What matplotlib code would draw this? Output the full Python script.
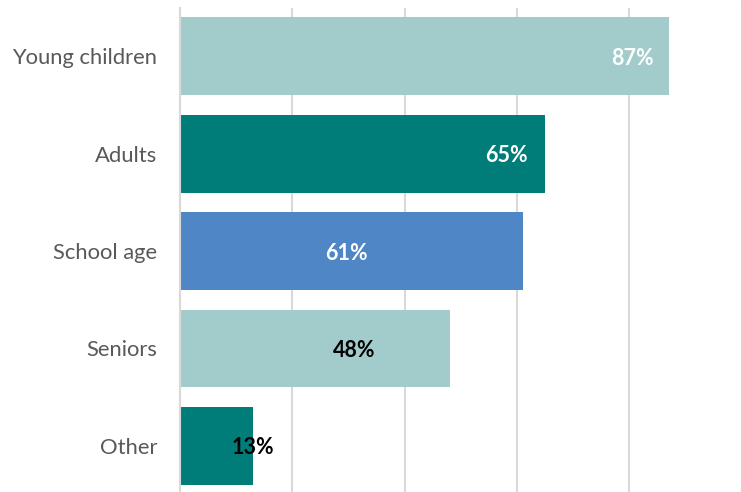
import matplotlib
matplotlib.use("Agg")
import matplotlib.pyplot as plt

categories = ["Young children", "Adults", "School age", "Seniors", "Other"]
values = [0.87, 0.65, 0.61, 0.48, 0.13]
labels = ["87%", "65%", "61%", "48%", "13%"]
label_x = [0.805, 0.582, 0.297, 0.31, 0.13]   # where the data labels sit
label_colors = ["white", "white", "white", "black", "black"]
bar_colors = ["#A2CCCB", "#007D78", "#4E86C6", "#A2CCCB", "#007D78"]

plt.rcParams["font.family"] = ["Lato", "DejaVu Sans"]

fig = plt.figure(figsize=(7.41, 4.92), dpi=100)
ax = fig.add_axes([180 / 741, -2.6 / 492, 561.5 / 741, 487 / 492])

ax.barh(range(len(categories)), values, height=0.8, color=bar_colors, zorder=2)
for i in range(len(categories)):
    ax.text(label_x[i], i + 0.02, labels[i], ha="center", va="center",
            fontsize=15.5, fontweight="bold", color=label_colors[i], zorder=3)

ax.set_xlim(0, 1.0)
ax.set_ylim(len(categories) - 0.5, -0.5)
ax.set_xticks([0, 0.2, 0.4, 0.6, 0.8, 1.0])
ax.set_xticklabels([])
ax.tick_params(axis="x", length=0)
ax.tick_params(axis="y", length=0, pad=16.5, labelsize=15.8, labelcolor="#595959")
ax.set_yticks(range(len(categories)))
ax.set_yticklabels(categories)
ax.grid(axis="x", color="#D9D9D9", linewidth=1.5, zorder=0)
for s in ["top", "right", "bottom"]:
    ax.spines[s].set_visible(False)
ax.spines["left"].set_color("#D9D9D9")
ax.spines["left"].set_linewidth(1.5)

fig.savefig("out.png", dpi=100)
